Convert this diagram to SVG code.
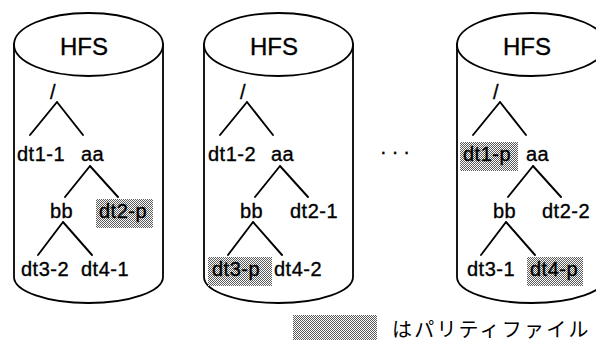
<svg xmlns="http://www.w3.org/2000/svg" width="596" height="345" viewBox="0 0 596 345">
  <defs>
    <!-- stippled grey fill used to mark parity files -->
    <pattern id="stipple" width="2" height="2" patternUnits="userSpaceOnUse">
      <rect width="2" height="2" fill="#ffffff"/>
      <rect x="0" y="0" width="1" height="1" fill="#5a5a5a"/>
      <rect x="1" y="1" width="1" height="1" fill="#5a5a5a"/>
    </pattern>
    <style>
      .drum { fill: #ffffff; stroke: #000; stroke-width: 1.8; }
      .edge { fill: none; stroke: #000; stroke-width: 1.9; stroke-linecap: round; }
      .lbl { font-family: "Liberation Sans", Arial, sans-serif; font-size: 20px; letter-spacing: 0.5px; fill: #000; stroke: #000; stroke-width: 0.35px; }
      .hfs { font-family: "Liberation Sans", Arial, sans-serif; font-size: 24px; fill: #000; stroke: #000; stroke-width: 0.35px; text-anchor: middle; }
      .parity { fill: url(#stipple); }
      .jp { font-family: "Noto Sans CJK JP", "Noto Sans CJK SC", sans-serif; font-size: 20px; letter-spacing: 2.2px; fill: #000; }
    </style>
    <!-- one HFS volume drawn as a cylinder -->
    <g id="drumShape">
      <path class="drum" d="M14,44 L14,277 A74.5,26 0 0 0 163,277 L163,44 Z"/>
      <ellipse class="drum" cx="88.5" cy="44.5" rx="74.5" ry="31.5"/>
      <text class="hfs" x="84" y="55">HFS</text>
    </g>
  </defs>

  <rect width="596" height="345" fill="#ffffff"/>

  <!-- volume 1 -->
  <g id="volume1">
    <use href="#drumShape"/>
    <g id="v1-root"><text class="lbl" x="50" y="99">/</text></g>
    <g id="v1-dt1-1"><text class="lbl" x="17" y="161">dt1-1</text></g>
    <g id="v1-aa"><text class="lbl" x="81" y="161">aa</text></g>
    <g id="v1-bb"><text class="lbl" x="50" y="218">bb</text></g>
    <g id="v1-dt2-p"><rect class="parity" x="96" y="199" width="57" height="29"/><text class="lbl" x="99" y="218">dt2-p</text></g>
    <g id="v1-dt3-2"><text class="lbl" x="21" y="276">dt3-2</text></g>
    <g id="v1-dt4-1"><text class="lbl" x="81" y="276">dt4-1</text></g>
    <g id="v1-connectors">
      <path class="edge" d="M57,102 L30,135 M57,102 L83,135 M90,166 L65,197 M90,166 L118,197 M63,222 L38,255 M63,222 L92,255"/>
    </g>
  </g>

  <!-- volume 2 -->
  <g id="volume2" transform="translate(190,0)">
    <use href="#drumShape"/>
    <g id="v2-root"><text class="lbl" x="50" y="99">/</text></g>
    <g id="v2-dt1-2"><text class="lbl" x="18" y="161">dt1-2</text></g>
    <g id="v2-aa"><text class="lbl" x="81" y="161">aa</text></g>
    <g id="v2-bb"><text class="lbl" x="50" y="218">bb</text></g>
    <g id="v2-dt2-1"><text class="lbl" x="100" y="218">dt2-1</text></g>
    <g id="v2-dt3-p"><rect class="parity" x="18" y="257" width="64" height="29"/><text class="lbl" x="22" y="276">dt3-p</text></g>
    <g id="v2-dt4-2"><text class="lbl" x="84" y="276">dt4-2</text></g>
    <g id="v2-connectors">
      <path class="edge" d="M57,102 L30,135 M57,102 L83,135 M90,166 L65,197 M90,166 L118,197 M63,222 L38,255 M63,222 L92,255"/>
    </g>
  </g>

  <!-- elision between volumes -->
  <text class="lbl" x="380" y="158" style="letter-spacing:5px">···</text>

  <!-- last volume -->
  <g id="volume3" transform="translate(443,0)">
    <use href="#drumShape"/>
    <g id="v3-root"><text class="lbl" x="50" y="99">/</text></g>
    <g id="v3-dt1-p"><rect class="parity" x="17" y="142" width="58" height="29"/><text class="lbl" x="20" y="161">dt1-p</text></g>
    <g id="v3-aa"><text class="lbl" x="83" y="161">aa</text></g>
    <g id="v3-bb"><text class="lbl" x="50" y="218">bb</text></g>
    <g id="v3-dt2-2"><text class="lbl" x="99" y="218">dt2-2</text></g>
    <g id="v3-dt3-1"><text class="lbl" x="24" y="276">dt3-1</text></g>
    <g id="v3-dt4-p"><rect class="parity" x="84" y="257" width="56" height="29"/><text class="lbl" x="87" y="276">dt4-p</text></g>
    <g id="v3-connectors">
      <path class="edge" d="M57,102 L30,135 M57,102 L83,135 M90,166 L65,197 M90,166 L118,197 M63,222 L38,255 M63,222 L92,255"/>
    </g>
  </g>

  <!-- legend -->
  <g id="legend">
    <rect class="parity" x="293" y="315" width="84" height="25"/>
    <text class="jp" x="392" y="337">はパリティファイル</text>
  </g>
</svg>
